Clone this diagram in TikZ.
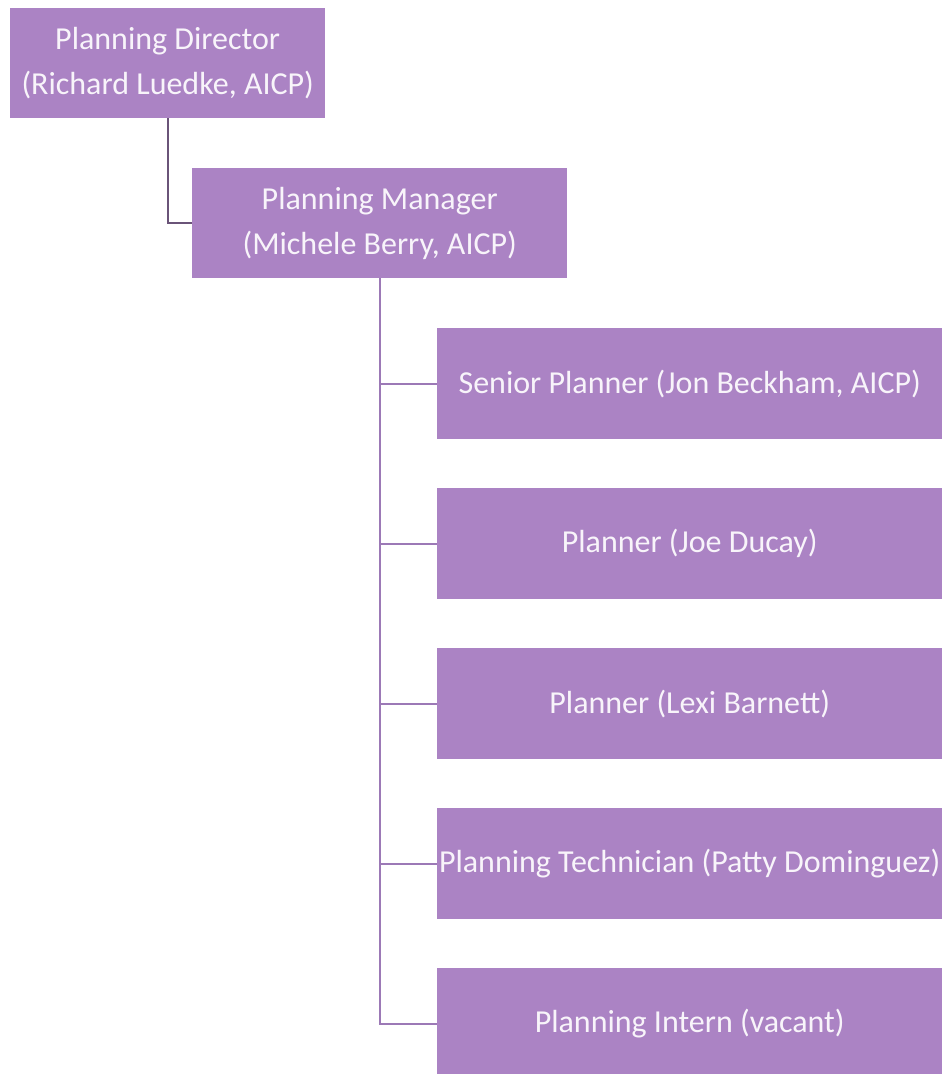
\documentclass[tikz,border=0pt]{standalone}
\usepackage{fontspec}
\setmainfont{Carlito}
\definecolor{boxfill}{HTML}{AB83C4}
\definecolor{linedark}{HTML}{6A5478}
\definecolor{linepurp}{HTML}{9C79B6}
\definecolor{txt}{HTML}{F8F4FA}
\begin{document}
\begin{tikzpicture}[x=1pt,y=-1pt,
  orgbox/.style={draw=none,fill=boxfill,text=txt,font=\fontsize{32}{45}\selectfont,align=center,anchor=north west,inner sep=0pt},
  conn/.style={line width=2pt}]
\useasboundingbox[fill=white] (0,0) rectangle (942,1074);
\node[orgbox,minimum width=315pt,minimum height=110pt] (dir) at (10,8) {Planning Director\\(Richard Luedke, AICP)};
\node[orgbox,minimum width=375pt,minimum height=110pt] (mgr) at (192,168) {Planning Manager\\(Michele Berry, AICP)};
\node[orgbox,minimum width=505pt,minimum height=111pt] (c1) at (437,328) {Senior Planner (Jon Beckham, AICP)};
\node[orgbox,minimum width=505pt,minimum height=111pt] (c2) at (437,488) {Planner (Joe Ducay)};
\node[orgbox,minimum width=505pt,minimum height=111pt] (c3) at (437,648) {Planner (Lexi Barnett)};
\node[orgbox,minimum width=505pt,minimum height=111pt] (c4) at (437,808) {Planning Technician (Patty Dominguez)};
\node[orgbox,minimum width=505pt,minimum height=111pt] (c5) at (437,968) {Planning Intern (vacant)};
\draw[conn,linedark] (dir.south) |- (mgr.west);
\foreach \c in {c1,c2,c3,c4,c5}{
  \draw[conn,linepurp] (mgr.south) |- (\c.west);
}
\end{tikzpicture}
\end{document}
